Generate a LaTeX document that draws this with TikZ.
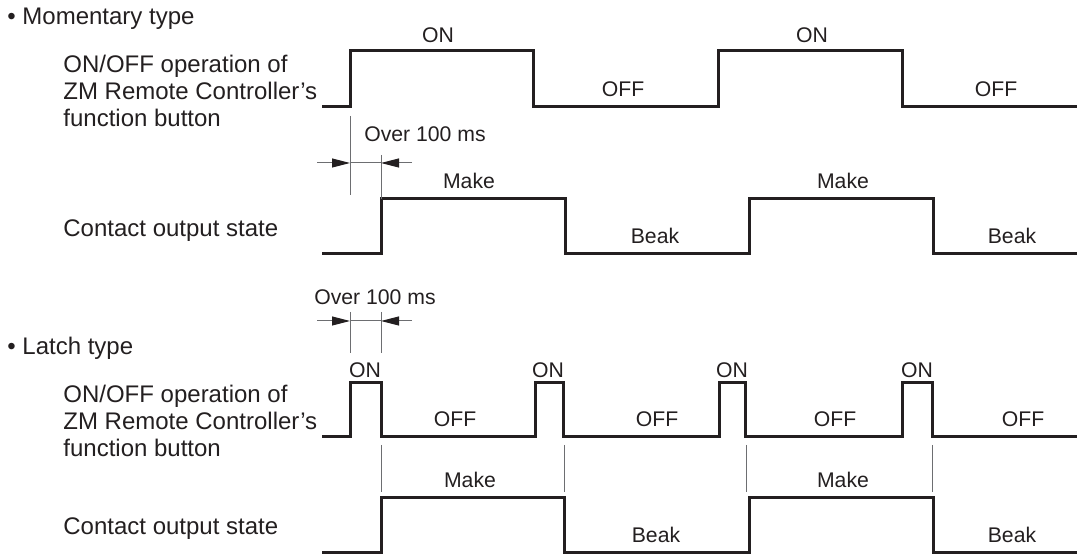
\documentclass[tikz,border=0pt]{standalone}
\usepackage{fontspec}
\setmainfont{Liberation Sans}
\usetikzlibrary{arrows.meta}
\definecolor{waveCol}{HTML}{231F20}
\definecolor{guideCol}{HTML}{6D6E71}

\begin{document}
\begin{tikzpicture}[
  x=0.5pt, y=-0.5pt,
  wave/.style={draw=waveCol, line width=1.5pt, line join=miter},
  guide/.style={draw=guideCol, line width=0.5pt},
  dimarr/.style={draw=guideCol, line width=0.5pt, -{Triangle[length=9pt,width=4.5pt,color=waveCol,fill=waveCol]}},
  head/.style={font=\fontsize{12}{13.5}\selectfont, anchor=base west, inner sep=0pt, text=waveCol},
  rowlbl/.style={font=\fontsize{12}{13.5}\selectfont, align=left, anchor=base west, inner sep=0pt, text=waveCol},
  sig/.style={font=\fontsize{10.6}{12}\selectfont, anchor=base, inner sep=0pt, text=waveCol}
]
\useasboundingbox (0,0) rectangle (1078,555);

% ============================================================
% MOMENTARY TYPE
% ============================================================
\node[head] (momhead) at (7,25) {• Momentary type};
% (base of a multi-line node = its last line)
\node[rowlbl] (mombtn) at (63,127) {ON/OFF operation of\\ZM Remote Controller’s\\function button};
\node[rowlbl] (momout) at (63,237) {Contact output state};

% button waveform
\draw[wave] (322,107) -| (350,51) -| (533,107) -| (718,51) -| (902,107) -- (1077,107);
\node[sig] (mon1) at (438,43) {ON};
\node[sig] (moff1) at (623,97) {OFF};
\node[sig] (mon2) at (812,43) {ON};
\node[sig] (moff2) at (996,97) {OFF};

% contact waveform
\draw[wave] (322,254) -| (381,199) -| (565,254) -| (749,199) -| (933,254) -- (1077,254);
\node[sig] (mmake1) at (469,189) {Make};
\node[sig] (mbeak1) at (655,244) {Beak};
\node[sig] (mmake2) at (843,189) {Make};
\node[sig] (mbeak2) at (1012,244) {Beak};

% delay dimension
\coordinate (d1a) at (350,163);
\coordinate (d1b) at (381,163);
\coordinate (d1l) at (317,163);
\coordinate (d1r) at (412,163);
\draw[guide] (350,116) -- (350,195);
\draw[guide] (381,155) -- (381,199);
\draw[guide] (d1a) -- (d1b);
\draw[dimarr] (d1l) -- (d1a);
\draw[dimarr] (d1r) -- (d1b);
\node[sig] (dly1) at (425,142) {Over 100 ms};

% ============================================================
% LATCH TYPE
% ============================================================
\coordinate (d2a) at (350,321);
\coordinate (d2b) at (381,321);
\coordinate (d2l) at (317,321);
\coordinate (d2r) at (412,321);
\draw[guide] (350,312) -- (350,353);
\draw[guide] (381,312) -- (381,353);
\draw[guide] (d2a) -- (d2b);
\draw[dimarr] (d2l) -- (d2a);
\draw[dimarr] (d2r) -- (d2b);
\node[sig] (dly2) at (375,305) {Over 100 ms};

\node[head] (lathead) at (7,355) {• Latch type};
\node[rowlbl] (latbtn) at (63,457) {ON/OFF operation of\\ZM Remote Controller’s\\function button};
\node[rowlbl] (latout) at (63,535) {Contact output state};

% button waveform (short pulses)
\draw[wave] (322,437) -| (350,383) -| (381,437) -| (535,383) -| (563,437)
  -| (719,383) -| (745,437) -| (902,383) -| (932,437) -- (1077,437);
\node[sig] (lon1) at (365,378) {ON};
\node[sig] (lon2) at (548,378) {ON};
\node[sig] (lon3) at (732,378) {ON};
\node[sig] (lon4) at (917,378) {ON};
\node[sig] (loff1) at (455,427) {OFF};
\node[sig] (loff2) at (657,427) {OFF};
\node[sig] (loff3) at (835,427) {OFF};
\node[sig] (loff4) at (1023,427) {OFF};

% guides from each release
\draw[guide] (381,445) -- (381,492);
\draw[guide] (564,445) -- (564,492);
\draw[guide] (746,445) -- (746,492);
\draw[guide] (932,445) -- (932,492);

% contact waveform (toggles)
\draw[wave] (322,553) -| (381,498) -| (564,553) -| (749,498) -| (933,553) -- (1077,553);
\node[sig] (lmake1) at (470,488) {Make};
\node[sig] (lbeak1) at (656,543) {Beak};
\node[sig] (lmake2) at (843,488) {Make};
\node[sig] (lbeak2) at (1012,543) {Beak};

\end{tikzpicture}
\end{document}
